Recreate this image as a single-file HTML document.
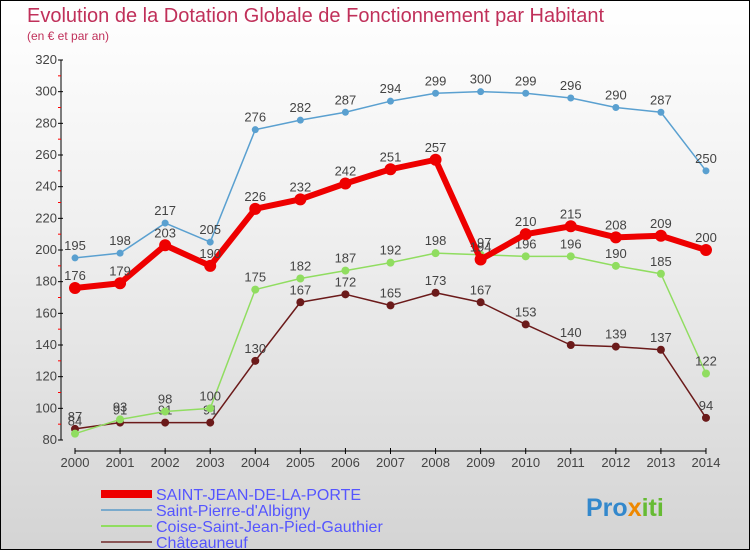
<!DOCTYPE html>
<html><head><meta charset="utf-8"><style>
body{margin:0}
#c{position:relative;width:748px;height:548px;border:1px solid #000;background:linear-gradient(#fff 0%,#f0f0f0 40%,#d4d4d4 100%);font-family:"Liberation Sans","DejaVu Sans",sans-serif;overflow:hidden}
</style></head><body>
<div id="c">
<svg id="s" width="748" height="548" style="position:absolute;left:0;top:0"></svg>
</div>
<script>
const years=[2000,2001,2002,2003,2004,2005,2006,2007,2008,2009,2010,2011,2012,2013,2014];
const sjValues=[176,179,203,190,226,232,242,251,257,194,210,215,208,209,200];
const spValues=[195,198,217,205,276,282,287,294,299,300,299,296,290,287,250];
const coiseValues=[84,93,98,100,175,182,187,192,198,197,196,196,190,185,122];
const chatValues=[87,91,91,91,130,167,172,165,173,167,153,140,139,137,94];
const yTicks=[80,100,120,140,160,180,200,220,240,260,280,300,320];
const NS="http://www.w3.org/2000/svg",s=document.getElementById('s');
const X=i=>74+i*45.07, Y=v=>439-(v-80)*380/240;
function el(t,a,txt){const e=document.createElementNS(NS,t);for(const k in a)e.setAttribute(k,a[k]);if(txt!==undefined)e.textContent=txt;s.appendChild(e);return e;}
let e;
e=el('text',{x:26,y:21,'font-size':20,fill:'#c0305a'},'Evolution de la Dotation Globale de Fonctionnement par Habitant');

e=el('text',{x:26,y:39,'font-size':12,fill:'#c0305a'},'(en € et par an)');

e=el('line',{x1:60,y1:Y(320),x2:60,y2:Y(80),stroke:'#000'});

yTicks.forEach((v,i)=>{
 el('line',{x1:57,y1:Y(v),x2:62,y2:Y(v),stroke:'#000'});
 if(i<yTicks.length-1) el('line',{x1:57,y1:Y(v+10),x2:60,y2:Y(v+10),stroke:'#f00'});
 e=el('text',{x:56,y:Y(v)+4,'font-size':13,fill:'#444','text-anchor':'end'},v);
 
});
e=el('line',{x1:X(0),y1:450,x2:X(14),y2:450,stroke:'#000'});

years.forEach((y,i)=>{
 el('line',{x1:X(i),y1:447,x2:X(i),y2:453,stroke:'#000'});
 e=el('text',{x:X(i),y:466,'font-size':13,fill:'#444','text-anchor':'middle'},y);
 
});
function series(vals,color,w,r,name){
 e=el('polyline',{points:vals.map((v,i)=>X(i)+','+Y(v)).join(' '),fill:'none',stroke:color,'stroke-width':w,'stroke-linejoin':'round'});
 
 vals.forEach((v,i)=>{
  e=el('circle',{cx:X(i),cy:Y(v),r:r,fill:color});
  
  e=el('text',{x:X(i),y:Y(v)-8,'font-size':13,fill:'#444','text-anchor':'middle'},v);
  
 });
}
series(chatValues,'#6b1a1a',1.5,4,'chateauneuf');
series(coiseValues,'#90dd60',1.5,4,'coise');
series(spValues,'#5aa0d0',1.5,3.5,'saint-pierre');
series(sjValues,'#ee0000',6,6,'saint-jean');
const legend=[['SAINT-JEAN-DE-LA-PORTE','#ee0000',8],["Saint-Pierre-d'Albigny",'#7aaacc',2],['Coise-Saint-Jean-Pied-Gauthier','#90dd60',2],['Châteauneuf','#8a5555',2]];
legend.forEach((l,i)=>{
 const y=493+i*16;
 e=el('line',{x1:100,y1:y,x2:151,y2:y,stroke:l[1],'stroke-width':l[2]});
 
 e=el('text',{x:155,y:y+6,'font-size':16,fill:'#5555ff'},l[0]);
 
});
e=el('text',{x:585,y:515,'font-size':25,'font-weight':'bold',fill:'#3388cc'},'');

[['Pro','#3388cc'],['x','#ee8800'],['iti','#66bb33']].forEach(p=>{const t=document.createElementNS(NS,'tspan');t.setAttribute('fill',p[1]);t.textContent=p[0];e.appendChild(t);});
</script>
</body></html>
